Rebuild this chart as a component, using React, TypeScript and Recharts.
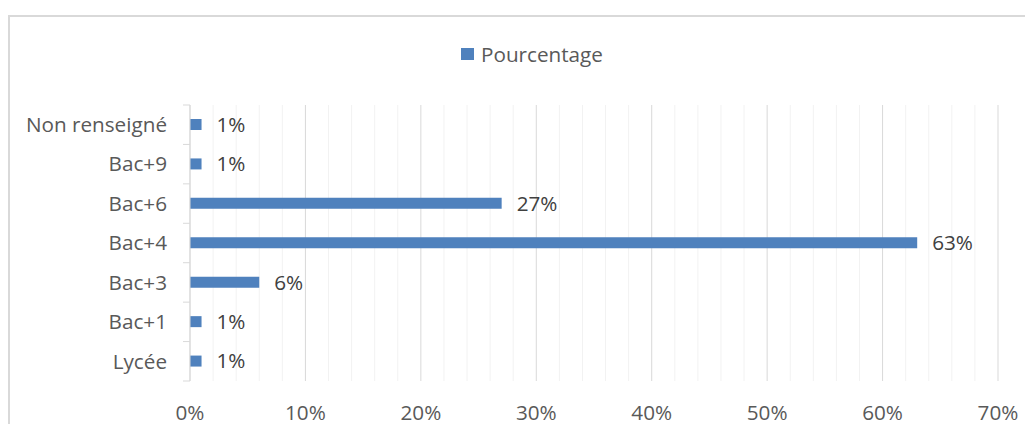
import React from "react";
import { BarChart, Bar, XAxis, YAxis, CartesianGrid, LabelList, Legend } from "recharts";

const categories = ["Non renseigné", "Bac+9", "Bac+6", "Bac+4", "Bac+3", "Bac+1", "Lycée"];
const values = [1, 1, 27, 63, 6, 1, 1];
const majorTicks = [0, 10, 20, 30, 40, 50, 60, 70];
const minorTicks = [2, 4, 6, 8, 12, 14, 16, 18, 22, 24, 26, 28, 32, 34, 36, 38, 42, 44, 46, 48, 52, 54, 56, 58, 62, 64, 66, 68];
const seriesName = "Pourcentage";

const data = categories.map((name, i) => ({ name, value: values[i] }));

const FONT = "'Open Sans', sans-serif";
const FS = 20.7;
const BLUE = "#4F81BD";

const YTick = (props: any) => {
  const { x, y, payload, index, visibleTicksCount } = props;
  const half = payload && payload.offset ? payload.offset : 19.7;
  const axisX = x + 23;
  const last = index === (visibleTicksCount ?? categories.length) - 1;
  return (
    <g>
      <line x1={axisX - 7} x2={axisX} y1={y - half} y2={y - half} stroke="#d9d9d9" strokeWidth={1} />
      {last && <line x1={axisX - 7} x2={axisX} y1={y + half} y2={y + half} stroke="#d9d9d9" strokeWidth={1} />}
      <text x={x} y={y} dy="0.355em" textAnchor="end" fill="#595959" fontSize={FS} fontFamily={FONT}>
        {payload.value}
      </text>
    </g>
  );
};

const LegendContent = () => (
  <div style={{ display: "flex", alignItems: "center", fontFamily: FONT, fontSize: FS, color: "#595959" }}>
    <span style={{ display: "inline-block", width: 13, height: 12, background: BLUE, marginRight: 7 }} />
    <span>{seriesName}</span>
  </div>
);

export default function App() {
  return (
    <div style={{ paddingTop: 7 }}>
      <div
        style={{
          width: 1017,
          height: 417,
          marginBottom: -8,
          boxSizing: "border-box",
          borderTop: "2px solid #d9d9d9",
          borderLeft: "2px solid #d9d9d9",
        }}
      >
        <BarChart
          width={1015}
          height={415}
          data={data}
          layout="vertical"
          margin={{ top: 88, right: 27, left: 0, bottom: 21 }}
          barCategoryGap={0}
        >
          <CartesianGrid horizontal={false} verticalValues={minorTicks} stroke="#f2f2f2" strokeWidth={1} />
          <CartesianGrid horizontal={false} verticalValues={majorTicks} stroke="#d9d9d9" strokeWidth={1} />
          <XAxis
            type="number"
            domain={[0, 70]}
            ticks={majorTicks}
            tickFormatter={(v: number) => `${v}%`}
            axisLine={false}
            tickLine={false}
            tickSize={8}
            tickMargin={16}
            height={30}
            interval={0}
            tick={{ fill: "#595959", fontSize: FS, fontFamily: FONT }}
          />
          <YAxis
            type="category"
            dataKey="name"
            width={180}
            axisLine={{ stroke: "#d9d9d9", strokeWidth: 1 }}
            tickLine={false}
            tickSize={7}
            tickMargin={16}
            interval={0}
            tick={<YTick />}
          />
          <Legend
            layout="horizontal"
            verticalAlign="middle"
            align="center"
            wrapperStyle={{ top: 23, left: 451, width: 300 }}
            content={<LegendContent />}
          />
          <Bar dataKey="value" name={seriesName} fill={BLUE} barSize={11} isAnimationActive={false}>
            <LabelList
              dataKey="value"
              position="right"
              offset={15}
              formatter={(v: any) => `${v}%`}
              fill="#404040"
              fontSize={FS}
              fontFamily={FONT}
            />
          </Bar>
        </BarChart>
      </div>
    </div>
  );
}
